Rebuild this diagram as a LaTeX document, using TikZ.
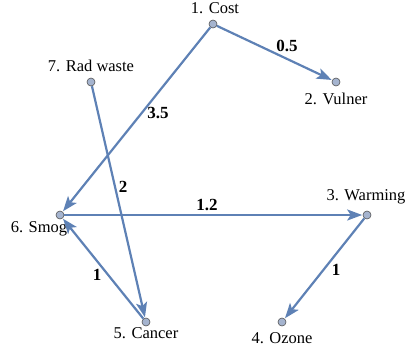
\documentclass[tikz,border=0pt]{standalone}
\usepackage{fontspec}
\setmainfont{Liberation Serif}
\usetikzlibrary{arrows.meta}
\definecolor{edgec}{HTML}{5E81B5}
\definecolor{vfill}{HTML}{A5B4CF}
\definecolor{vdraw}{HTML}{555555}
\begin{document}
\begin{tikzpicture}[x=1pt,y=-1pt,
  vert/.style={circle,fill=vfill,draw=vdraw,line width=0.6pt,inner sep=0pt,minimum size=8pt},
  vlab/.style={font=\fontsize{16.5}{18}\selectfont,inner sep=0pt},
  wlab/.style={font=\fontsize{17}{19}\selectfont\bfseries,inner sep=0pt},
  edge/.style={draw=edgec,line width=2.2pt,-{Stealth[length=15pt,width=11pt,inset=3.5pt]},shorten >=0.5pt}]
\useasboundingbox (0,0) rectangle (409,354);
\node[vert] (n1) at (213,24) {};
\node[vert] (n2) at (336,82) {};
\node[vert] (n3) at (367,215) {};
\node[vert] (n4) at (282,322) {};
\node[vert] (n5) at (146,322) {};
\node[vert] (n6) at (60,215) {};
\node[vert] (n7) at (91,82) {};
\node[vlab] (l1) at (215,8) {1. Cost};
\node[vlab] (l2) at (336,99) {2. Vulner};
\node[vlab] (l3) at (366,197) {3. Warming};
\node[vlab] (l4) at (282,338) {4. Ozone};
\node[vlab] (l5) at (146,333) {5. Cancer};
\node[vlab] (l6) at (39,229) {6. Smog};
\node[vlab] (l7) at (91,66) {7. Rad waste};
\draw[edge] (n1) -- (n2);
\draw[edge] (n1) -- (n6);
\draw[edge] (n7) -- (n5);
\draw[edge] (n6) -- (n3);
\draw[edge] (n3) -- (n4);
\draw[edge] (n5) -- (n6);
\node[wlab] (w12) at (287,46) {0.5};
\node[wlab] (w16) at (158,113) {3.5};
\node[wlab] (w75) at (123,187) {2};
\node[wlab] (w63) at (207,205) {1.2};
\node[wlab] (w34) at (336,270) {1};
\node[wlab] (w56) at (97,275) {1};
\end{tikzpicture}
\end{document}
